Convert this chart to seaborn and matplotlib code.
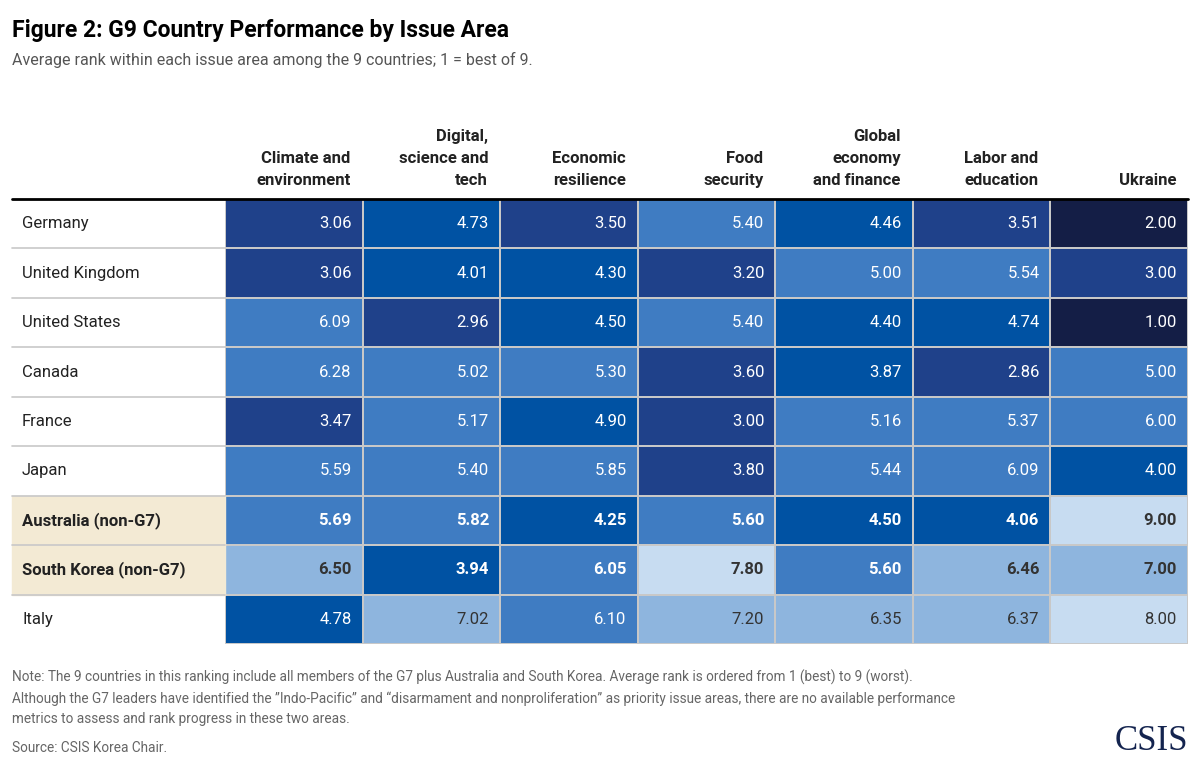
import matplotlib.pyplot as plt
import numpy as np
import pandas as pd
import seaborn as sns
from matplotlib.colors import ListedColormap

countries = ["Germany", "United Kingdom", "United States", "Canada", "France", "Japan",
             "Australia (non-G7)", "South Korea (non-G7)", "Italy"]
issues = ["Climate and\nenvironment", "Digital,\nscience and\ntech", "Economic\nresilience",
          "Food\nsecurity", "Global\neconomy\nand finance", "Labor and\neducation", "Ukraine"]
ranks = [
    [3.06, 4.73, 3.50, 5.40, 4.46, 3.51, 2.00],
    [3.06, 4.01, 4.30, 3.20, 5.00, 5.54, 3.00],
    [6.09, 2.96, 4.50, 5.40, 4.40, 4.74, 1.00],
    [6.28, 5.02, 5.30, 3.60, 3.87, 2.86, 5.00],
    [3.47, 5.17, 4.90, 3.00, 5.16, 5.37, 6.00],
    [5.59, 5.40, 5.85, 3.80, 5.44, 6.09, 4.00],
    [5.69, 5.82, 4.25, 5.60, 4.50, 4.06, 9.00],
    [6.50, 3.94, 6.05, 7.80, 5.60, 6.46, 7.00],
    [4.78, 7.02, 6.10, 7.20, 6.35, 6.37, 8.00],
]
# shade band of each cell as drawn in the source (0 = darkest)
shade = [
    [1, 2, 1, 3, 2, 1, 0],
    [1, 2, 2, 1, 3, 3, 1],
    [3, 1, 2, 3, 2, 2, 0],
    [3, 3, 3, 1, 2, 1, 3],
    [1, 3, 2, 1, 3, 3, 3],
    [3, 3, 3, 1, 3, 3, 2],
    [3, 3, 2, 3, 2, 2, 5],
    [4, 2, 3, 5, 3, 4, 4],
    [2, 4, 3, 4, 4, 4, 5],
]
highlight = ["Australia (non-G7)", "South Korea (non-G7)"]
palette = ["#141e46", "#1f418a", "#0052a3", "#3f7cc2", "#8eb5de", "#c7dcf1"]

W, H = 1200, 769
fx = lambda px: px / W
fy = lambda py: 1 - py / H

sns.set_theme(style="white")
plt.rcParams["font.family"] = ["Roboto", "DejaVu Sans"]

fig = plt.figure(figsize=(12, 7.69), dpi=100)
left, right, top, bottom = 225, 1188, 199, 644
ax = fig.add_axes([fx(left), fy(bottom), fx(right - left), fy(top) - fy(bottom)])

shade_df = pd.DataFrame(shade, index=countries, columns=issues)
rank_df = pd.DataFrame(ranks, index=countries, columns=issues)
sns.heatmap(shade_df, cmap=ListedColormap(palette), vmin=-0.5, vmax=5.5, cbar=False,
            linewidths=1.2, linecolor="#c8c8c8", ax=ax)
ax.set_xticks([]); ax.set_yticks([])
ax.set_xlabel(""); ax.set_ylabel("")

for i, c in enumerate(countries):
    bold = c in highlight
    for j in range(len(issues)):
        col = "#333333" if shade[i][j] >= 4 else "white"
        ax.text(j + 0.92, i + 0.5, f"{rank_df.iloc[i, j]:.2f}", ha="right", va="center",
                fontsize=12, color=col, fontweight="bold" if bold else "normal")

nrow = len(countries)
row_h = (bottom - top) / nrow
for i, c in enumerate(countries):
    y0 = top + i * row_h
    if c in highlight:
        fig.patches.append(plt.Rectangle((fx(12), fy(y0 + row_h)), fx(left - 12), fy(y0) - fy(y0 + row_h),
                                         transform=fig.transFigure, color="#f3ead4", zorder=0))
    fig.text(fx(22), fy(y0 + row_h / 2), c, ha="left", va="center", fontsize=12,
             color="#222222", fontweight="bold" if c in highlight else "normal")
    if i > 0:
        fig.add_artist(plt.Line2D([fx(12), fx(left)], [fy(y0), fy(y0)], color="#c8c8c8", lw=1.2))
fig.add_artist(plt.Line2D([fx(12), fx(right)], [fy(top), fy(top)], color="black", lw=2))

col_w = (right - left) / len(issues)
for j, lab in enumerate(issues):
    fig.text(fx(left + (j + 1) * col_w - 12), fy(188), lab, ha="right", va="bottom",
             fontsize=12, fontweight="bold", color="#222222", linespacing=1.6)

fig.text(fx(12), fy(30), "Figure 2: G9 Country Performance by Issue Area", fontsize=16.5,
         fontweight="bold", color="black", va="center")
fig.text(fx(12), fy(60), "Average rank within each issue area among the 9 countries; 1 = best of 9.",
         fontsize=11.5, color="#555555", va="center")
note = ("Note: The 9 countries in this ranking include all members of the G7 plus Australia and South Korea. "
        "Average rank is ordered from 1 (best) to 9 (worst).\n"
        "Although the G7 leaders have identified the \u201dIndo-Pacific\u201d and \u201cdisarmament and "
        "nonproliferation\u201d as priority issue areas, there are no available performance\n"
        "metrics to assess and rank progress in these two areas.")
fig.text(fx(12), fy(670), note, fontsize=9.8, color="#666666", va="top", linespacing=1.55)
fig.text(fx(12), fy(748), "Source: CSIS Korea Chair.", fontsize=9.8, color="#666666", va="center")
fig.text(fx(1188), fy(742), "CSIS", fontsize=25, color="#14244f", ha="right", va="center",
         family=["Liberation Serif", "DejaVu Serif"])

fig.savefig("out.png", dpi=100)
